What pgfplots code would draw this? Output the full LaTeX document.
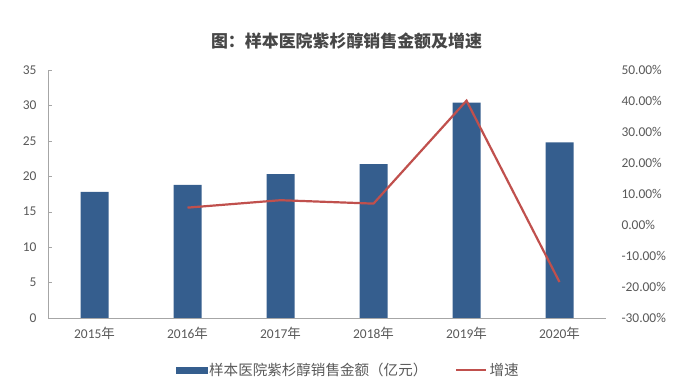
\documentclass[border=0pt]{standalone}
\usepackage{pgfplots}
\pgfplotsset{compat=1.18}
\usepackage{fontspec}
\setmainfont{Carlito}
\newfontfamily\cjk{Noto Sans CJK SC}
\definecolor{barblue}{HTML}{355E8E}
\definecolor{linered}{HTML}{C0504D}
\definecolor{txtgray}{HTML}{595959}
\definecolor{axgray}{HTML}{A6A6A6}
\begin{document}
\begin{tikzpicture}[x=1bp,y=1bp]
\useasboundingbox (-48bp,-71bp) rectangle (645bp,318bp);
\begin{axis}[
  at={(0,0)}, anchor=south west,
  scale only axis, width=558bp, height=248bp,
  xmin=-0.5, xmax=5.5, ymin=0, ymax=35,
  ytick={0,5,...,35},
  xtick={0,...,5},
  xticklabels={2015{\cjk 年},2016{\cjk 年},2017{\cjk 年},2018{\cjk 年},2019{\cjk 年},2020{\cjk 年}},
  extra x ticks={-0.5,0.5,1.5,2.5,3.5,4.5,5.5},
  extra x tick labels={},
  extra x tick style={major tick length=4bp, tick style={axgray}},
  axis x line*=bottom, axis y line*=left,
  axis line style={axgray, line width=0.6bp},
  x axis line style={-}, y axis line style={-},
  major x tick style={draw=none},
  major y tick style={axgray},
  major tick length=4bp,
  y tick label style={font=\fontsize{13.5}{15}\selectfont, text=txtgray, xshift=-8bp},
  x tick label style={font=\fontsize{13.5}{15}\selectfont, text=txtgray, yshift=-2bp},
  /pgf/number format/assume math mode=true,
  ybar, bar width=28bp,
]
\addplot[fill=barblue, draw=none] coordinates {(0,17.8) (1,18.8) (2,20.3) (3,21.7) (4,30.4) (5,24.8)};
\end{axis}
\begin{axis}[
  at={(0,0)}, anchor=south west,
  scale only axis, width=558bp, height=248bp,
  xmin=-0.5, xmax=5.5, ymin=-30, ymax=50,
  ytick={-30,-20,...,50},
  axis x line=none, axis y line*=right,
  y axis line style={draw=none},
  major tick style={draw=none},
  yticklabel={\pgfmathprintnumber[fixed,fixed zerofill,precision=2]{\tick}\%},
  y tick label style={font=\fontsize{13.5}{15}\selectfont, text=txtgray, xshift=12bp},
  /pgf/number format/assume math mode=true,
  legend style={at={(0.538,-0.21)}, anchor=center, draw=none, fill=none,
    font=\fontsize{14.6}{16}\selectfont\cjk, text=txtgray,
    legend columns=2,
    /tikz/every even column/.append style={column sep=26bp}},
  legend cell align=left,
]
\addlegendimage{legend image code/.code={\fill[barblue] (0bp,-3bp) rectangle (31bp,3bp);}}
\addlegendentry{样本医院紫杉醇销售金额（亿元）}
\addplot[linered, line width=2.2bp, mark=none,
  legend image code/.code={\draw[linered, line width=2.2bp] (0bp,0bp) -- (30bp,0bp);}]
  coordinates {(1,5.6) (2,8.0) (3,6.9) (4,40.1) (5,-18.4)};
\addlegendentry{增速}
\end{axis}
\node[font=\fontsize{17}{19}\selectfont\cjk\bfseries, text=black!72] at (298.5bp,277bp) {图：样本医院紫杉醇销售金额及增速};
\end{tikzpicture}
\end{document}
